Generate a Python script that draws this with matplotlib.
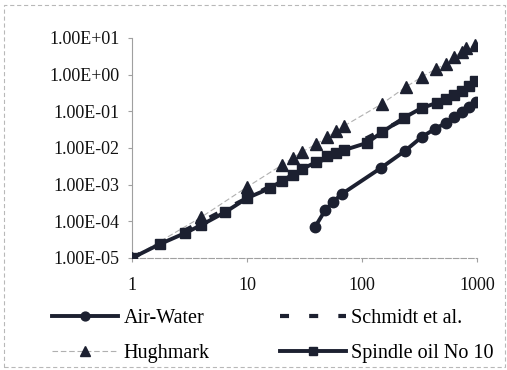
import matplotlib
matplotlib.use('Agg')
import matplotlib.pyplot as plt
from matplotlib.ticker import FuncFormatter, FixedLocator
from matplotlib.patches import Rectangle

plt.rcParams['font.family'] = ['Liberation Serif', 'DejaVu Serif']
plt.rcParams['lines.scale_dashes'] = False

# data
air_x = [39, 48, 56, 67, 146, 236, 331, 429, 534, 626, 734, 844, 971]
air_y = [7e-5, 2.04e-4, 3.4e-4, 5.6e-4, 2.85e-3, 8.3e-3, 0.020, 0.033,
         0.048, 0.070, 0.096, 0.131, 0.18]

hugh_x = [1, 4, 10, 20, 25, 30, 40, 50, 60, 70, 148, 240, 330, 437, 535,
          625, 735, 810, 970]
hugh_y = [1e-5, 1.3e-4, 8.6e-4, 3.4e-3, 5.3e-3, 7.8e-3, 0.0128, 0.020,
          0.029, 0.040, 0.158, 0.46, 0.86, 1.43, 1.95, 3.0, 4.15, 5.3, 6.4]

schm_x = [1, 10, 100, 1000]
schm_y = [1e-5, 4.3e-4, 1.6e-2, 0.6]

oil_x = [1, 1.75, 2.9, 4, 6.5, 10, 16, 20, 25, 30, 40, 50, 60, 70, 110,
         150, 230, 330, 445, 535, 625, 735, 845, 970]
oil_y = [1e-5, 2.4e-5, 4.8e-5, 7.9e-5, 1.8e-4, 4.3e-4, 8.1e-4, 1.26e-3,
         1.83e-3, 2.67e-3, 4.1e-3, 6.0e-3, 7.2e-3, 8.8e-3, 1.37e-2, 2.73e-2,
         6.6e-2, 0.123, 0.169, 0.217, 0.279, 0.358, 0.49, 0.67]

xticks = [1, 10, 100, 1000]
yticks = [1e-5, 1e-4, 1e-3, 1e-2, 1e-1, 1, 10]

ink = '#1c2030'

fig = plt.figure(figsize=(5.07, 3.70), dpi=100)
ax = fig.add_axes([132/507, 1-258/370, (477-132)/507, (258-38)/370])

# outer chart border
fig.patches.append(Rectangle((4/507, 3/370), 501/507, 362/370,
                             transform=fig.transFigure, fill=False,
                             edgecolor='#b8b8b8', lw=0.8, ls=(0, (3, 2))))

h_sch, = ax.plot(schm_x, schm_y, color=ink, lw=3, dashes=(6.5, 14.5),
                 label='Schmidt et al.', zorder=2)
h_hug, = ax.plot(hugh_x, hugh_y, color='#b0b0b0', lw=0.8, dashes=(4, 2),
                 marker='^', ms=8, mfc=ink, mec=ink, label='Hughmark', zorder=3)
h_oil, = ax.plot(oil_x, oil_y, color=ink, lw=2.8, marker='s', ms=7.5,
                 mfc=ink, mec=ink, label='Spindle oil No 10', zorder=4)
h_air, = ax.plot(air_x, air_y, color=ink, lw=2.8, marker='o', ms=7.5,
                 mfc=ink, mec=ink, label='Air-Water', zorder=5)

ax.set_xscale('log')
ax.set_yscale('log')
ax.set_xlim(1, 1000)
ax.set_ylim(1e-5, 10)
ax.xaxis.set_major_locator(FixedLocator(xticks))
ax.yaxis.set_major_locator(FixedLocator(yticks))
ax.xaxis.set_minor_locator(FixedLocator([]))
ax.yaxis.set_minor_locator(FixedLocator([]))
ax.xaxis.set_major_formatter(FuncFormatter(lambda v, p: '%d' % v))
ax.yaxis.set_major_formatter(FuncFormatter(lambda v, p: '%.2E' % v))

for s in ['top', 'right']:
    ax.spines[s].set_visible(False)
for s in ['left', 'bottom']:
    ax.spines[s].set_color('#a0a0a0')
    ax.spines[s].set_linewidth(0.8)
ax.spines['bottom'].set_linestyle((0, (4, 1.5)))

ax.tick_params(axis='both', colors='#a0a0a0', length=3, width=0.8,
               labelcolor='#111111', labelsize=13)
ax.tick_params(axis='x', pad=11)
ax.tick_params(axis='y', pad=6)
ax.patch.set_alpha(0)

leg = fig.legend([h_air, h_hug, h_sch, h_oil],
                 ['Air-Water', 'Hughmark', 'Schmidt et al.', 'Spindle oil No 10'],
                 ncol=2, loc='center', bbox_to_anchor=(273/507, 1-336/370),
                 frameon=False, fontsize=14.5, handlelength=3.3,
                 handletextpad=0.25, columnspacing=3.5, labelspacing=0.75,
                 borderpad=0, markerscale=0.85)

fig.savefig('out.png', dpi=100)
